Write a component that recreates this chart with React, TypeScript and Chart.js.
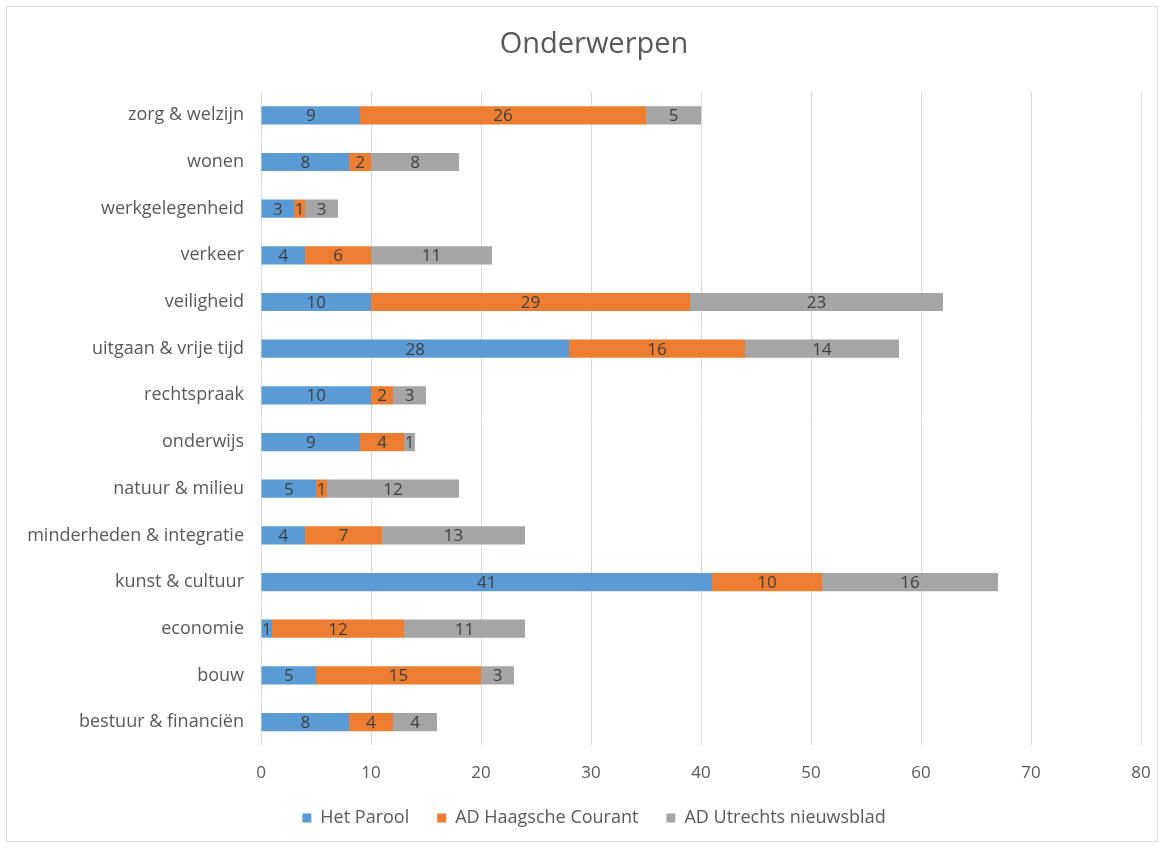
import React, { useEffect, useRef } from "react";
import { Chart, registerables } from "chart.js";

Chart.register(...registerables);

const categories = [
  "zorg & welzijn",
  "wonen",
  "werkgelegenheid",
  "verkeer",
  "veiligheid",
  "uitgaan & vrije tijd",
  "rechtspraak",
  "onderwijs",
  "natuur & milieu",
  "minderheden & integratie",
  "kunst & cultuur",
  "economie",
  "bouw",
  "bestuur & financiën",
];

const seriesNames = ["Het Parool", "AD Haagsche Courant", "AD Utrechts nieuwsblad"];
const hetParool = [9, 8, 3, 4, 10, 28, 10, 9, 5, 4, 41, 1, 5, 8];
const adHaagsche = [26, 2, 1, 6, 29, 16, 2, 4, 1, 7, 10, 12, 15, 4];
const adUtrechts = [5, 8, 3, 11, 23, 14, 3, 1, 12, 13, 16, 11, 3, 4];
const xTicks = [0, 10, 20, 30, 40, 50, 60, 70, 80];

const FONT = "'Open Sans', 'DejaVu Sans', sans-serif";
const TEXT = "#595959";

const dataLabels = {
  id: "dataLabels",
  afterDatasetsDraw(chart: any) {
    const ctx = chart.ctx;
    ctx.save();
    ctx.font = `17px ${FONT}`;
    ctx.fillStyle = "#404040";
    ctx.textAlign = "center";
    ctx.textBaseline = "middle";
    chart.data.datasets.forEach((ds: any, di: number) => {
      const meta = chart.getDatasetMeta(di);
      meta.data.forEach((el: any, i: number) => {
        const v = ds.data[i];
        if (!v) return;
        const cx = (el.x + el.base) / 2;
        ctx.fillText(String(v), cx, el.y + 1);
      });
    });
    ctx.restore();
  },
};

// center title and legend over the same region as the original chart
const shiftBoxes = {
  id: "shiftBoxes",
  afterLayout(chart: any) {
    const dx = 16;
    [chart.titleBlock, chart.legend].forEach((b: any) => {
      if (!b) return;
      b.left += dx;
      b.right += dx;
    });
  },
};

export default function App() {
  const ref = useRef<HTMLCanvasElement | null>(null);
  useEffect(() => {
    if (!ref.current) return;
    const chart = new Chart(ref.current, {
      type: "bar",
      data: {
        labels: categories,
        datasets: [
          { label: seriesNames[0], data: hetParool, backgroundColor: "#5B9BD5" },
          { label: seriesNames[1], data: adHaagsche, backgroundColor: "#ED7D31" },
          { label: seriesNames[2], data: adUtrechts, backgroundColor: "#A5A5A5" },
        ],
      },
      options: {
        indexAxis: "y",
        responsive: false,
        animation: false,
        devicePixelRatio: 1,
        datasets: { bar: { categoryPercentage: 1, barPercentage: 0.39 } },
        layout: { padding: { left: 15, right: 24, top: 0, bottom: 11 } },
        scales: {
          x: {
            stacked: true,
            min: 0,
            max: 80,
            afterBuildTicks: (scale: any) => {
              scale.ticks = xTicks.map((v) => ({ value: v }));
            },
            afterFit: (scale: any) => {
              scale.height = 35.6;
              scale.paddingLeft = 0;
              scale.paddingRight = 0;
            },
            grid: { color: "#D9D9D9", drawTicks: false, lineWidth: 1 },
            border: { display: false },
            ticks: { color: TEXT, font: { family: FONT, size: 17 }, padding: 18 },
          },
          y: {
            stacked: true,
            afterFit: (scale: any) => {
              scale.width = 246;
            },
            grid: { display: false, drawTicks: false },
            border: { display: false },
            ticks: { color: TEXT, font: { family: FONT, size: 18 }, padding: 17, autoSkip: false },
          },
        },
        plugins: {
          title: {
            display: true,
            text: "Onderwerpen",
            color: TEXT,
            font: { family: FONT, size: 29, weight: "normal" },
            padding: { top: 27.6, bottom: 29.6 },
          },
          legend: {
            display: true,
            position: "bottom",
            labels: {
              color: TEXT,
              font: { family: FONT, size: 18 },
              boxWidth: 9,
              boxHeight: 9,
              padding: 28,
            },
          },
          tooltip: { enabled: false },
        },
      },
      plugins: [dataLabels, shiftBoxes],
    });
    return () => chart.destroy();
  }, []);

  return (
    <div style={{ position: "absolute", left: 0, top: 0, width: 1165, height: 848, background: "#fff" }}>
      <div
        style={{
          position: "absolute",
          left: 6,
          top: 6,
          width: 1152,
          height: 836,
          border: "1px solid #D9D9D9",
          boxSizing: "border-box",
        }}
      />
      <canvas ref={ref} width={1165} height={848} style={{ position: "absolute", left: 0, top: 0 }} />
    </div>
  );
}
